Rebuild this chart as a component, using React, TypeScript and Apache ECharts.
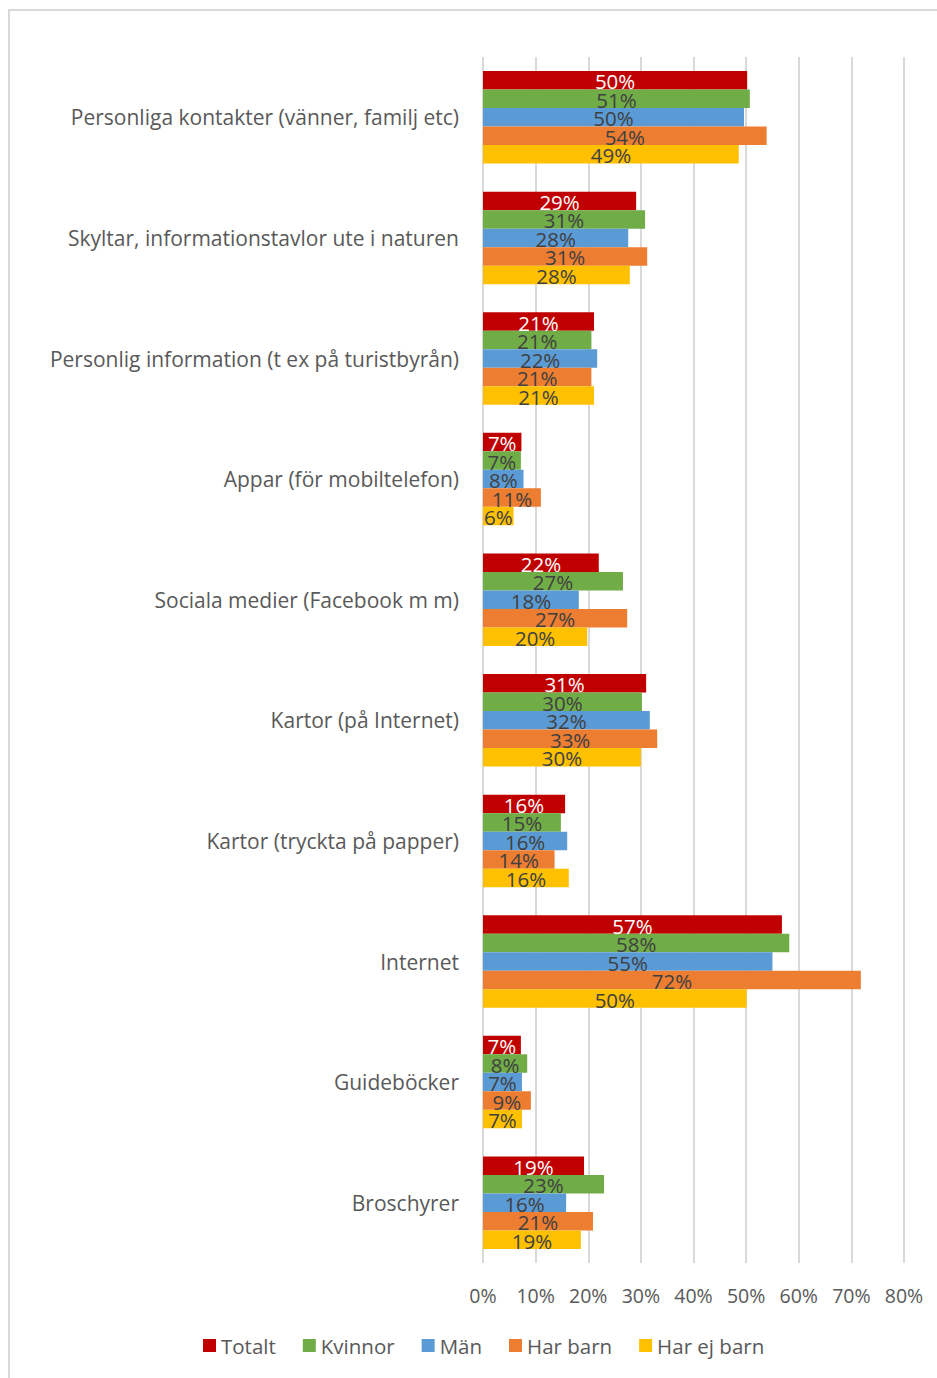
import React, { useEffect, useRef } from "react";
import * as echarts from "echarts";

const categories = [
  "Personliga kontakter (vänner, familj etc)",
  "Skyltar, informationstavlor ute i naturen",
  "Personlig information (t ex på turistbyrån)",
  "Appar (för mobiltelefon)",
  "Sociala medier (Facebook m m)",
  "Kartor (på Internet)",
  "Kartor (tryckta på papper)",
  "Internet",
  "Guideböcker",
  "Broschyrer",
];

const seriesNames = ["Totalt", "Kvinnor", "Män", "Har barn", "Har ej barn"];
const seriesColors = ["#C00000", "#70AD47", "#5B9BD5", "#ED7D31", "#FFC000"];

const totalt = [50.2, 29.1, 21.1, 7.3, 22.0, 31.0, 15.6, 56.8, 7.2, 19.2];
const kvinnor = [50.7, 30.8, 20.6, 7.2, 26.6, 30.2, 14.8, 58.2, 8.4, 23.0];
const man = [49.6, 27.6, 21.7, 7.7, 18.2, 31.7, 16.0, 55.0, 7.4, 15.8];
const harBarn = [53.9, 31.2, 20.6, 11.0, 27.4, 33.1, 13.6, 71.8, 9.1, 20.9];
const harEjBarn = [48.6, 27.9, 21.1, 5.8, 19.8, 30.0, 16.3, 50.1, 7.4, 18.6];

const seriesValues = [totalt, kvinnor, man, harBarn, harEjBarn];
const labelColors = ["#FFFFFF", "#404040", "#404040", "#404040", "#404040"];

const FONT = "'Open Sans', Lato, sans-serif";

export default function App() {
  const ref = useRef<HTMLDivElement>(null);
  useEffect(() => {
    if (!ref.current) return;
    const chart = echarts.init(ref.current, undefined, { renderer: "svg" });
    chart.setOption({
      animation: false,
      backgroundColor: "#FFFFFF",
      textStyle: { fontFamily: FONT },
      grid: { left: 483, right: 33, top: 57, bottom: 115, containLabel: false },
      graphic: [
        {
          type: "rect",
          shape: { x: 9, y: 10, width: 1200, height: 2000 },
          style: { fill: "none", stroke: "#D9D9D9", lineWidth: 2 },
          silent: true,
        },
      ],
      legend: {
        data: seriesNames,
        left: 198,
        top: 1330,
        itemWidth: 13,
        itemHeight: 13,
        itemGap: 27,
        icon: "rect",
        textStyle: { color: "#595959", fontSize: 20.5, fontFamily: FONT },
      },
      xAxis: {
        type: "value",
        min: 0,
        max: 80,
        interval: 10,
        axisLine: { show: false },
        axisTick: { show: false },
        axisLabel: {
          formatter: (v: number) => v + "%",
          color: "#595959",
          fontSize: 19.5,
          fontFamily: FONT,
          margin: 22,
        },
        splitLine: { show: true, lineStyle: { color: "#D9D9D9", width: 2 } },
      },
      yAxis: {
        type: "category",
        data: categories,
        inverse: true,
        axisLine: { show: false },
        axisTick: { show: false },
        axisLabel: { color: "#595959", fontSize: 21, fontFamily: FONT, margin: 24 },
      },
      series: seriesNames.map((name, i) => ({
        name,
        type: "bar",
        data: seriesValues[i],
        barWidth: 18.5,
        barGap: "0%",
        itemStyle: { color: seriesColors[i] },
        label: {
          show: true,
          position: "inside",
          offset: [0, 1],
          formatter: (p: any) => Math.round(p.value) + "%",
          color: labelColors[i],
          fontSize: 20.5,
          fontFamily: FONT,
        },
      })),
    });
    return () => chart.dispose();
  }, []);
  return (
    <div
      ref={ref}
      style={{ position: "absolute", left: 0, top: 0, width: 937, height: 1378 }}
    />
  );
}
